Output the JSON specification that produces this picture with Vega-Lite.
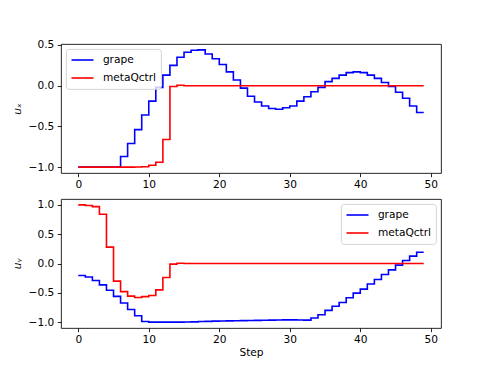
{
  "$schema": "https://vega.github.io/schema/vega-lite/v6.json",
  "autosize": {"type": "pad"},
  "padding": {"left": 11, "top": 39, "right": 5, "bottom": 5},
  "background": "white",
  "bounds": "flush",
  "spacing": 26,
  "config": {
    "font": "DejaVu Sans",
    "view": {"stroke": "black", "strokeWidth": 0.85},
    "axis": {
      "grid": false, "domain": false, "tickColor": "black", "tickWidth": 0.85, "tickSize": 3.7,
      "labelFont": "DejaVu Sans", "labelFontSize": 10.6, "labelColor": "black", "labelPadding": 3.5,
      "titleFont": "DejaVu Sans", "titleFontSize": 10.6, "titleFontWeight": "normal", "titleColor": "black"
    },
    "axisX": {"labelPadding": 2.5},
    "axisY": {"titlePadding": 6},
    "legend": {
      "title": null, "offset": 5, "padding": 4.5, "fillColor": "rgba(255,255,255,0.8)",
      "strokeColor": "#cccccc", "strokeWidth": 0.85, "cornerRadius": 3,
      "symbolType": "M-1,0H3", "symbolSize": 121, "symbolStrokeWidth": 1.6,
      "labelOffset": 19.4, "labelFont": "DejaVu Sans", "labelFontSize": 10.6, "labelColor": "black",
      "rowPadding": 5
    }
  },
  "datasets": {
    "ux": [
      {"step": 0, "series": "grape", "value": -1}, {"step": 1, "series": "grape", "value": -1},
      {"step": 2, "series": "grape", "value": -1}, {"step": 3, "series": "grape", "value": -1},
      {"step": 4, "series": "grape", "value": -1}, {"step": 5, "series": "grape", "value": -1},
      {"step": 6, "series": "grape", "value": -1}, {"step": 7, "series": "grape", "value": -0.87},
      {"step": 8, "series": "grape", "value": -0.71}, {"step": 9, "series": "grape", "value": -0.54},
      {"step": 10, "series": "grape", "value": -0.36}, {"step": 11, "series": "grape", "value": -0.19},
      {"step": 12, "series": "grape", "value": -0.02}, {"step": 13, "series": "grape", "value": 0.13},
      {"step": 14, "series": "grape", "value": 0.25}, {"step": 15, "series": "grape", "value": 0.35},
      {"step": 16, "series": "grape", "value": 0.41}, {"step": 17, "series": "grape", "value": 0.435},
      {"step": 18, "series": "grape", "value": 0.44}, {"step": 19, "series": "grape", "value": 0.39},
      {"step": 20, "series": "grape", "value": 0.33}, {"step": 21, "series": "grape", "value": 0.26},
      {"step": 22, "series": "grape", "value": 0.17}, {"step": 23, "series": "grape", "value": 0.07},
      {"step": 24, "series": "grape", "value": -0.03}, {"step": 25, "series": "grape", "value": -0.13},
      {"step": 26, "series": "grape", "value": -0.2}, {"step": 27, "series": "grape", "value": -0.25},
      {"step": 28, "series": "grape", "value": -0.28}, {"step": 29, "series": "grape", "value": -0.29},
      {"step": 30, "series": "grape", "value": -0.27}, {"step": 31, "series": "grape", "value": -0.25},
      {"step": 32, "series": "grape", "value": -0.19}, {"step": 33, "series": "grape", "value": -0.135},
      {"step": 34, "series": "grape", "value": -0.075}, {"step": 35, "series": "grape", "value": -0.02},
      {"step": 36, "series": "grape", "value": 0.05}, {"step": 37, "series": "grape", "value": 0.09},
      {"step": 38, "series": "grape", "value": 0.13}, {"step": 39, "series": "grape", "value": 0.16},
      {"step": 40, "series": "grape", "value": 0.17}, {"step": 41, "series": "grape", "value": 0.16},
      {"step": 42, "series": "grape", "value": 0.13}, {"step": 43, "series": "grape", "value": 0.09},
      {"step": 44, "series": "grape", "value": 0.04}, {"step": 45, "series": "grape", "value": -0.01},
      {"step": 46, "series": "grape", "value": -0.08}, {"step": 47, "series": "grape", "value": -0.155},
      {"step": 48, "series": "grape", "value": -0.25}, {"step": 49, "series": "grape", "value": -0.33},
      {"step": 0, "series": "metaQctrl", "value": -1}, {"step": 1, "series": "metaQctrl", "value": -1},
      {"step": 2, "series": "metaQctrl", "value": -1}, {"step": 3, "series": "metaQctrl", "value": -1},
      {"step": 4, "series": "metaQctrl", "value": -1}, {"step": 5, "series": "metaQctrl", "value": -1},
      {"step": 6, "series": "metaQctrl", "value": -1}, {"step": 7, "series": "metaQctrl", "value": -1},
      {"step": 8, "series": "metaQctrl", "value": -1}, {"step": 9, "series": "metaQctrl", "value": -0.998},
      {"step": 10, "series": "metaQctrl", "value": -0.995}, {"step": 11, "series": "metaQctrl", "value": -0.977},
      {"step": 12, "series": "metaQctrl", "value": -0.94}, {"step": 13, "series": "metaQctrl", "value": -0.66},
      {"step": 14, "series": "metaQctrl", "value": -0.01}, {"step": 15, "series": "metaQctrl", "value": 0.005},
      {"step": 16, "series": "metaQctrl", "value": 0}, {"step": 17, "series": "metaQctrl", "value": 0},
      {"step": 18, "series": "metaQctrl", "value": 0}, {"step": 19, "series": "metaQctrl", "value": 0},
      {"step": 20, "series": "metaQctrl", "value": 0}, {"step": 21, "series": "metaQctrl", "value": 0},
      {"step": 22, "series": "metaQctrl", "value": 0}, {"step": 23, "series": "metaQctrl", "value": 0},
      {"step": 24, "series": "metaQctrl", "value": 0}, {"step": 25, "series": "metaQctrl", "value": 0},
      {"step": 26, "series": "metaQctrl", "value": 0}, {"step": 27, "series": "metaQctrl", "value": 0},
      {"step": 28, "series": "metaQctrl", "value": 0}, {"step": 29, "series": "metaQctrl", "value": 0},
      {"step": 30, "series": "metaQctrl", "value": 0}, {"step": 31, "series": "metaQctrl", "value": 0},
      {"step": 32, "series": "metaQctrl", "value": 0}, {"step": 33, "series": "metaQctrl", "value": 0},
      {"step": 34, "series": "metaQctrl", "value": 0}, {"step": 35, "series": "metaQctrl", "value": 0},
      {"step": 36, "series": "metaQctrl", "value": 0}, {"step": 37, "series": "metaQctrl", "value": 0},
      {"step": 38, "series": "metaQctrl", "value": 0}, {"step": 39, "series": "metaQctrl", "value": 0},
      {"step": 40, "series": "metaQctrl", "value": 0}, {"step": 41, "series": "metaQctrl", "value": 0},
      {"step": 42, "series": "metaQctrl", "value": 0}, {"step": 43, "series": "metaQctrl", "value": 0},
      {"step": 44, "series": "metaQctrl", "value": 0}, {"step": 45, "series": "metaQctrl", "value": 0},
      {"step": 46, "series": "metaQctrl", "value": 0}, {"step": 47, "series": "metaQctrl", "value": 0},
      {"step": 48, "series": "metaQctrl", "value": 0}, {"step": 49, "series": "metaQctrl", "value": 0}
    ],
    "uy": [
      {"step": 0, "series": "grape", "value": -0.205}, {"step": 1, "series": "grape", "value": -0.205},
      {"step": 2, "series": "grape", "value": -0.23}, {"step": 3, "series": "grape", "value": -0.29},
      {"step": 4, "series": "grape", "value": -0.364}, {"step": 5, "series": "grape", "value": -0.455},
      {"step": 6, "series": "grape", "value": -0.56}, {"step": 7, "series": "grape", "value": -0.673},
      {"step": 8, "series": "grape", "value": -0.784}, {"step": 9, "series": "grape", "value": -0.89},
      {"step": 10, "series": "grape", "value": -0.99}, {"step": 11, "series": "grape", "value": -1.0},
      {"step": 12, "series": "grape", "value": -1.0}, {"step": 13, "series": "grape", "value": -1.0},
      {"step": 14, "series": "grape", "value": -1.0}, {"step": 15, "series": "grape", "value": -1.0},
      {"step": 16, "series": "grape", "value": -0.998}, {"step": 17, "series": "grape", "value": -0.995},
      {"step": 18, "series": "grape", "value": -0.99}, {"step": 19, "series": "grape", "value": -0.987},
      {"step": 20, "series": "grape", "value": -0.983}, {"step": 21, "series": "grape", "value": -0.98},
      {"step": 22, "series": "grape", "value": -0.978}, {"step": 23, "series": "grape", "value": -0.976},
      {"step": 24, "series": "grape", "value": -0.974}, {"step": 25, "series": "grape", "value": -0.972},
      {"step": 26, "series": "grape", "value": -0.97}, {"step": 27, "series": "grape", "value": -0.968},
      {"step": 28, "series": "grape", "value": -0.966}, {"step": 29, "series": "grape", "value": -0.964},
      {"step": 30, "series": "grape", "value": -0.962}, {"step": 31, "series": "grape", "value": -0.962},
      {"step": 32, "series": "grape", "value": -0.963}, {"step": 33, "series": "grape", "value": -0.965},
      {"step": 34, "series": "grape", "value": -0.93}, {"step": 35, "series": "grape", "value": -0.875},
      {"step": 36, "series": "grape", "value": -0.8}, {"step": 37, "series": "grape", "value": -0.73},
      {"step": 38, "series": "grape", "value": -0.664}, {"step": 39, "series": "grape", "value": -0.585},
      {"step": 40, "series": "grape", "value": -0.505}, {"step": 41, "series": "grape", "value": -0.437},
      {"step": 42, "series": "grape", "value": -0.35}, {"step": 43, "series": "grape", "value": -0.273},
      {"step": 44, "series": "grape", "value": -0.187}, {"step": 45, "series": "grape", "value": -0.108},
      {"step": 46, "series": "grape", "value": -0.028}, {"step": 47, "series": "grape", "value": 0.05},
      {"step": 48, "series": "grape", "value": 0.125}, {"step": 49, "series": "grape", "value": 0.193},
      {"step": 0, "series": "metaQctrl", "value": 1.0}, {"step": 1, "series": "metaQctrl", "value": 1.0},
      {"step": 2, "series": "metaQctrl", "value": 0.99}, {"step": 3, "series": "metaQctrl", "value": 0.97},
      {"step": 4, "series": "metaQctrl", "value": 0.84}, {"step": 5, "series": "metaQctrl", "value": 0.28},
      {"step": 6, "series": "metaQctrl", "value": -0.3}, {"step": 7, "series": "metaQctrl", "value": -0.48},
      {"step": 8, "series": "metaQctrl", "value": -0.557}, {"step": 9, "series": "metaQctrl", "value": -0.58},
      {"step": 10, "series": "metaQctrl", "value": -0.565}, {"step": 11, "series": "metaQctrl", "value": -0.545},
      {"step": 12, "series": "metaQctrl", "value": -0.45}, {"step": 13, "series": "metaQctrl", "value": -0.24},
      {"step": 14, "series": "metaQctrl", "value": -0.01}, {"step": 15, "series": "metaQctrl", "value": 0.005},
      {"step": 16, "series": "metaQctrl", "value": 0}, {"step": 17, "series": "metaQctrl", "value": 0},
      {"step": 18, "series": "metaQctrl", "value": 0}, {"step": 19, "series": "metaQctrl", "value": 0},
      {"step": 20, "series": "metaQctrl", "value": 0}, {"step": 21, "series": "metaQctrl", "value": 0},
      {"step": 22, "series": "metaQctrl", "value": 0}, {"step": 23, "series": "metaQctrl", "value": 0},
      {"step": 24, "series": "metaQctrl", "value": 0}, {"step": 25, "series": "metaQctrl", "value": 0},
      {"step": 26, "series": "metaQctrl", "value": 0}, {"step": 27, "series": "metaQctrl", "value": 0},
      {"step": 28, "series": "metaQctrl", "value": 0}, {"step": 29, "series": "metaQctrl", "value": 0},
      {"step": 30, "series": "metaQctrl", "value": 0}, {"step": 31, "series": "metaQctrl", "value": 0},
      {"step": 32, "series": "metaQctrl", "value": 0}, {"step": 33, "series": "metaQctrl", "value": 0},
      {"step": 34, "series": "metaQctrl", "value": 0}, {"step": 35, "series": "metaQctrl", "value": 0},
      {"step": 36, "series": "metaQctrl", "value": 0}, {"step": 37, "series": "metaQctrl", "value": 0},
      {"step": 38, "series": "metaQctrl", "value": 0}, {"step": 39, "series": "metaQctrl", "value": 0},
      {"step": 40, "series": "metaQctrl", "value": 0}, {"step": 41, "series": "metaQctrl", "value": 0},
      {"step": 42, "series": "metaQctrl", "value": 0}, {"step": 43, "series": "metaQctrl", "value": 0},
      {"step": 44, "series": "metaQctrl", "value": 0}, {"step": 45, "series": "metaQctrl", "value": 0},
      {"step": 46, "series": "metaQctrl", "value": 0}, {"step": 47, "series": "metaQctrl", "value": 0},
      {"step": 48, "series": "metaQctrl", "value": 0}, {"step": 49, "series": "metaQctrl", "value": 0}
    ]
  },
  "vconcat": [
    {
      "width": 380, "height": 129,
      "data": {"name": "ux"},
      "mark": {"type": "line", "interpolate": "step-before", "strokeWidth": 1.6},
      "encoding": {
        "x": {"field": "step", "type": "quantitative", "title": null,
              "scale": {"domain": [-2.45, 51.45], "nice": false, "zero": false},
              "axis": {"values": [0, 10, 20, 30, 40, 50], "format": "d"}},
        "y": {"field": "value", "type": "quantitative", "title": "uₓ",
              "scale": {"domain": [-1.072, 0.512], "nice": false, "zero": false},
              "axis": {"values": [-1, -0.5, 0, 0.5], "format": ".1f", "titleFontStyle": "italic"}},
        "color": {"field": "series", "type": "nominal",
                  "scale": {"domain": ["grape", "metaQctrl"], "range": ["#0000ff", "#ff0000"]},
                  "legend": {"orient": "top-left"}}
      }
    },
    {
      "width": 380, "height": 129,
      "data": {"name": "uy"},
      "mark": {"type": "line", "interpolate": "step-before", "strokeWidth": 1.6},
      "encoding": {
        "x": {"field": "step", "type": "quantitative", "title": "Step",
              "scale": {"domain": [-2.45, 51.45], "nice": false, "zero": false},
              "axis": {"values": [0, 10, 20, 30, 40, 50], "format": "d", "titlePadding": 3}},
        "y": {"field": "value", "type": "quantitative", "title": "uᵧ",
              "scale": {"domain": [-1.1, 1.1], "nice": false, "zero": false},
              "axis": {"values": [-1, -0.5, 0, 0.5, 1], "format": ".1f", "titleFontStyle": "italic"}},
        "color": {"field": "series", "type": "nominal",
                  "scale": {"domain": ["grape", "metaQctrl"], "range": ["#0000ff", "#ff0000"]},
                  "legend": {"orient": "top-right"}}
      }
    }
  ],
  "resolve": {"legend": {"color": "independent"}, "scale": {"color": "independent"}}
}
